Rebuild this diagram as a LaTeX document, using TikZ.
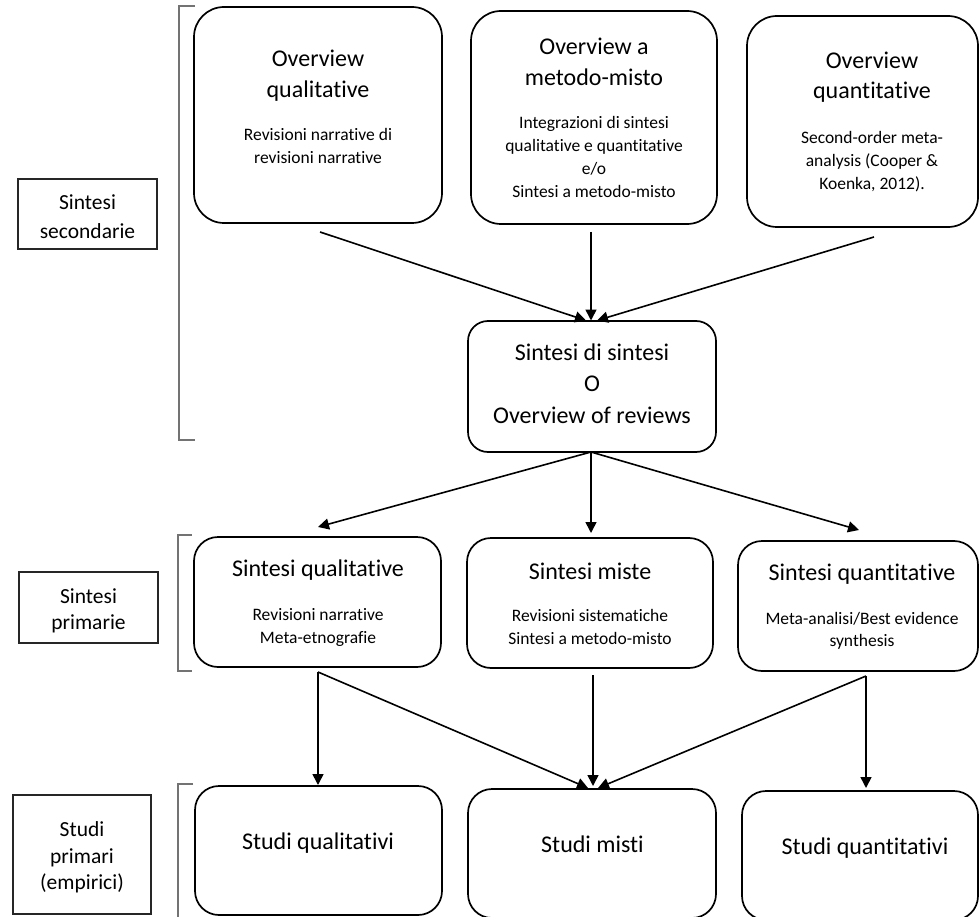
\documentclass[tikz,border=0pt]{standalone}
\usepackage{fontspec}
\setmainfont{Carlito}[Ligatures=NoCommon]
\usetikzlibrary{arrows.meta}
\begin{document}
\begin{tikzpicture}[x=1pt,y=-1pt,
  rbox/.style={draw=black, line width=1.7pt, rounded corners=#1, inner sep=0pt},
  lbox/.style={draw=black!85, line width=1.7pt, inner sep=0pt},
  ttl/.style={anchor=base, inner sep=0pt, font=\fontsize{24}{29}\selectfont},
  sub/.style={anchor=base, inner sep=0pt, font=\fontsize{17.5}{21}\selectfont},
  lbl/.style={anchor=base, inner sep=0pt, font=\fontsize{21.5}{26}\selectfont},
  arr/.style={line width=1.6pt, -{Triangle[length=11pt,width=11pt]}},
  brk/.style={draw=black!55, line width=1.1pt}]
\useasboundingbox (0,0) rectangle (979,917);

% ---- boxes
\node[rbox=30pt, minimum width=248pt, minimum height=216pt] (oq) at (318,115) {};
\node[rbox=30pt, minimum width=246pt, minimum height=213pt] (om) at (594,117.5) {};
\node[rbox=30pt, minimum width=231pt, minimum height=211pt] (on) at (862.5,121.5) {};
\node[rbox=20pt, minimum width=248pt, minimum height=131pt] (ss) at (592,386.5) {};
\node[rbox=24pt, minimum width=247pt, minimum height=130pt] (pq) at (317.5,602) {};
\node[rbox=24pt, minimum width=246pt, minimum height=130pt] (pm) at (590,603) {};
\node[rbox=24pt, minimum width=240pt, minimum height=130pt] (pn) at (858,606) {};
\node[rbox=24pt, minimum width=247pt, minimum height=129pt] (sq) at (318.5,850.5) {};
\node[rbox=24pt, minimum width=248pt, minimum height=129pt] (sm) at (592,853.5) {};
\node[rbox=24pt, minimum width=236pt, minimum height=129pt] (sn) at (860,855.5) {};

\node[lbox, minimum width=139pt, minimum height=70pt] (ls) at (87.5,214) {};
\node[lbox, minimum width=139pt, minimum height=71pt] (lp) at (88.5,607.5) {};
\node[lbox, minimum width=138pt, minimum height=119pt] (le) at (82,854.5) {};

% ---- texts
\node[ttl] (oqa) at (318,66.7) {Overview};
\node[ttl] (oqb) at (318,97.7) {qualitative};
\node[sub] (oqc) at (318,140.5) {Revisioni narrative di};
\node[sub] (oqd) at (318,164) {revisioni narrative};

\node[ttl] (oma) at (594,54.3) {Overview a};
\node[ttl] (omb) at (594,86) {metodo-misto};
\node[sub] (omc) at (594,128.3) {Integrazioni di sintesi};
\node[sub] (omd) at (594,151.5) {qualitative e quantitative};
\node[sub] (ome) at (594,174.8) {e/o};
\node[sub] (omf) at (594,197.7) {Sintesi a metodo-misto};

\node[ttl] (ona) at (872,69) {Overview};
\node[ttl] (onb) at (872,99) {quantitative};
\node[sub] (onc) at (872,144) {Second-order meta-};
\node[sub] (ond) at (872,166.7) {analysis (Cooper \&};
\node[sub] (one) at (872,190) {Koenka, 2012).};

\node[ttl] (ssa) at (592,360.7) {Sintesi di sintesi};
\node[ttl] (ssb) at (592,391.7) {O};
\node[ttl] (ssc) at (592,423.3) {Overview of reviews};

\node[ttl] (pqa) at (318,576.7) {Sintesi qualitative};
\node[sub] (pqb) at (318,620.7) {Revisioni narrative};
\node[sub] (pqc) at (318,643.3) {Meta-etnografie};

\node[ttl] (pma) at (590,579) {Sintesi miste};
\node[sub] (pmb) at (590,621.7) {Revisioni sistematiche};
\node[sub] (pmc) at (590,644.3) {Sintesi a metodo-misto};

\node[ttl] (pna) at (862,580.7) {Sintesi quantitative};
\node[sub] (pnb) at (862,624) {Meta-analisi/Best evidence};
\node[sub] (pnc) at (862,646.7) {synthesis};

\node[ttl] (sqa) at (318,849) {Studi qualitativi};
\node[ttl] (sma) at (592.5,852.3) {Studi misti};
\node[ttl] (sna) at (865,854) {Studi quantitativi};

\node[lbl] (lsa) at (87.5,210) {Sintesi};
\node[lbl] (lsb) at (87.5,238.3) {secondarie};
\node[lbl] (lpa) at (88.5,603.3) {Sintesi};
\node[lbl] (lpb) at (88.5,629.5) {primarie};
\node[lbl] (lea) at (82,836.7) {Studi};
\node[lbl] (leb) at (82,863.3) {primari};
\node[lbl] (lec) at (82,889.3) {(empirici)};

% ---- brackets
\draw[brk] (195,6) -- (179,6) -- (179,440) -- (195,440);
\draw[brk] (192,535) -- (178,535) -- (178,671) -- (192,671);
\draw[brk] (193,784) -- (178,784) -- (178,925);

% ---- connector end points
\coordinate (oqo) at (320,232);
\coordinate (omo) at (591,232);
\coordinate (ono) at (874,237);
\coordinate (ssl) at (586,320.5);
\coordinate (ssm) at (591,320.5);
\coordinate (ssr) at (597,320.5);
\coordinate (sso) at (591,452);
\coordinate (pqi) at (318,527);
\coordinate (pmi) at (591,533);
\coordinate (pni) at (859,530);
\coordinate (pqo) at (318,672);
\coordinate (pmo) at (593,675);
\coordinate (pno) at (866,676);
\coordinate (sqi) at (318,785);
\coordinate (sml) at (588,788);
\coordinate (smm) at (593,786);
\coordinate (smr) at (598,788);
\coordinate (sni) at (866,788);

% ---- connectors
\draw[arr] (oqo) -- (ssl);
\draw[arr] (omo) -- (ssm);
\draw[arr] (ono) -- (ssr);
\draw[arr] (sso) -- (pqi);
\draw[arr] (sso) -- (pmi);
\draw[arr] (sso) -- (pni);
\draw[arr] (pqo) -- (sqi);
\draw[arr] (pqo) -- (sml);
\draw[arr] (pmo) -- (smm);
\draw[arr] (pno) -- (smr);
\draw[arr] (pno) -- (sni);
\end{tikzpicture}
\end{document}
